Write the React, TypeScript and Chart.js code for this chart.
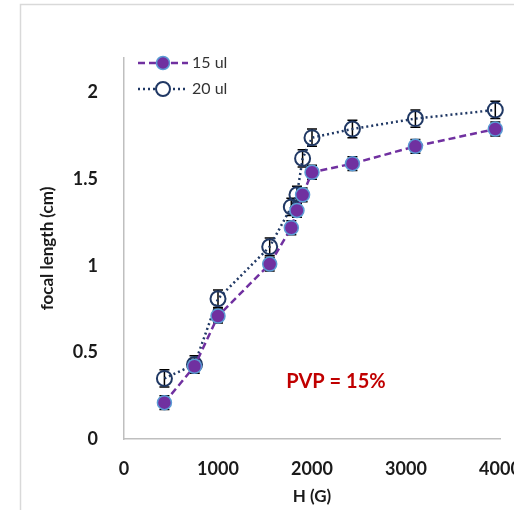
import React, { useEffect, useRef } from "react";
import { Chart, registerables } from "chart.js";

Chart.register(...registerables);

const H_VALUES = [430, 750, 1000, 1550, 1780, 1840, 1900, 2000, 2430, 3100, 3950];
const FOCAL_15 = [0.21, 0.42, 0.71, 1.01, 1.22, 1.32, 1.41, 1.54, 1.59, 1.69, 1.79];
const FOCAL_20 = [0.35, 0.43, 0.81, 1.11, 1.34, 1.41, 1.62, 1.74, 1.79, 1.85, 1.9];
const ERR_15 = [0.04, 0.04, 0.04, 0.04, 0.04, 0.04, 0.04, 0.04, 0.04, 0.04, 0.04];
const ERR_20 = [0.05, 0.05, 0.05, 0.05, 0.05, 0.05, 0.05, 0.05, 0.05, 0.05, 0.05];
const SERIES_LABELS = ["15 ul", "20 ul"];
const X_TICKS = [0, 1000, 2000, 3000, 4000];
const Y_TICKS = [0, 0.5, 1, 1.5, 2];
const ANNOTATION = "PVP = 15%";
const ANNOTATION_POS = { x: 2255, y: 0.33 };

const FONT = "Lato, 'Open Sans', sans-serif";
const PURPLE = "#7030A0";
const NAVY = "#203864";
const MARKER_EDGE = "#5B9BD5";

export default function App() {
  const ref = useRef<HTMLCanvasElement | null>(null);

  useEffect(() => {
    if (!ref.current) return;
    const errs = [ERR_15, ERR_20];
    const ys = [FOCAL_15, FOCAL_20];

    const framePlugin = {
      id: "frame",
      beforeDraw(chart: any) {
        const ctx = chart.ctx;
        ctx.save();
        ctx.strokeStyle = "#d9d9d9";
        ctx.lineWidth = 1.5;
        ctx.beginPath();
        ctx.moveTo(20.5, 520);
        ctx.lineTo(20.5, 4.5);
        ctx.lineTo(520, 4.5);
        ctx.stroke();
        ctx.restore();
      },
    };

    const errorPlugin = {
      id: "errorbars",
      beforeDatasetsDraw(chart: any) {
        const ctx = chart.ctx;
        const yScale = chart.scales.y;
        ctx.save();
        ctx.strokeStyle = "#000";
        ctx.lineWidth = 1.5;
        [0, 1].forEach((d) => {
          const meta = chart.getDatasetMeta(d);
          meta.data.forEach((pt: any, j: number) => {
            const top = yScale.getPixelForValue(ys[d][j] + errs[d][j]);
            const bot = yScale.getPixelForValue(ys[d][j] - errs[d][j]);
            ctx.beginPath();
            ctx.moveTo(pt.x, top);
            ctx.lineTo(pt.x, bot);
            ctx.moveTo(pt.x - 5, top);
            ctx.lineTo(pt.x + 5, top);
            ctx.moveTo(pt.x - 5, bot);
            ctx.lineTo(pt.x + 5, bot);
            ctx.stroke();
          });
        });
        ctx.restore();
      },
    };

    const overlayPlugin = {
      id: "overlay",
      afterDraw(chart: any) {
        const ctx = chart.ctx;
        const area = chart.chartArea;
        ctx.save();
        chart.data.datasets.forEach((ds: any, i: number) => {
          const y = area.top + 5 + i * 26;
          const x0 = area.left + 14;
          ctx.strokeStyle = ds.borderColor;
          ctx.lineWidth = ds.borderWidth;
          ctx.setLineDash(ds.borderDash || []);
          ctx.beginPath();
          ctx.moveTo(x0, y);
          ctx.lineTo(x0 + 50, y);
          ctx.stroke();
          ctx.setLineDash([]);
          ctx.beginPath();
          ctx.arc(x0 + 25, y, ds.pointRadius - 0.5, 0, Math.PI * 2);
          ctx.fillStyle = ds.pointBackgroundColor !== "transparent" ? ds.pointBackgroundColor : "#fff";
          ctx.fill();
          ctx.strokeStyle = ds.pointBorderColor;
          ctx.lineWidth = ds.pointBorderWidth;
          ctx.stroke();
          ctx.fillStyle = "#333";
          ctx.font = `16px ${FONT}`;
          ctx.textAlign = "left";
          ctx.textBaseline = "middle";
          ctx.fillText(ds.label, x0 + 54, y);
        });
        const ax = chart.scales.x.getPixelForValue(ANNOTATION_POS.x);
        const ay = chart.scales.y.getPixelForValue(ANNOTATION_POS.y);
        ctx.fillStyle = "#C00000";
        ctx.font = `bold 20px ${FONT}`;
        ctx.textAlign = "center";
        ctx.textBaseline = "middle";
        ctx.fillText(ANNOTATION, ax, ay);
        ctx.restore();
      },
    };

    const chart = new Chart(ref.current, {
      type: "scatter",
      data: {
        datasets: [
          {
            label: SERIES_LABELS[0],
            data: H_VALUES.map((x, i) => ({ x, y: FOCAL_15[i] })),
            showLine: true,
            borderColor: PURPLE,
            borderWidth: 2.5,
            borderDash: [7, 4],
            pointRadius: 7,
            pointBackgroundColor: PURPLE,
            pointBorderColor: MARKER_EDGE,
            pointBorderWidth: 1.5,
            clip: false,
            order: 1,
          } as any,
          {
            label: SERIES_LABELS[1],
            data: H_VALUES.map((x, i) => ({ x, y: FOCAL_20[i] })),
            showLine: true,
            borderColor: NAVY,
            borderWidth: 2.5,
            borderDash: [2, 3],
            pointRadius: 7.5,
            pointBackgroundColor: "transparent",
            pointBorderColor: NAVY,
            pointBorderWidth: 2,
            clip: false,
            order: 2,
          } as any,
        ],
      },
      options: {
        animation: false,
        responsive: false,
        events: [],
        layout: { padding: { left: 20, right: 14, top: 58, bottom: 0 } },
        plugins: {
          legend: { display: false },
          tooltip: { enabled: false },
        },
        scales: {
          x: {
            type: "linear",
            min: 0,
            max: 4000,
            grid: { display: false },
            border: { display: true, color: "#bfbfbf", width: 1.5 },
            afterBuildTicks: (s: any) => {
              s.ticks = X_TICKS.map((v) => ({ value: v }));
            },
            afterFit: (s: any) => {
              s.height = 71;
              s.paddingLeft = 0;
              s.paddingRight = 0;
            },
            ticks: {
              padding: 11,
              maxRotation: 0,
              autoSkip: false,
              color: "#1a1a1a",
              font: { family: FONT, size: 18, weight: "bold" },
              callback: (v: any) => String(v),
            },
            title: {
              display: true,
              text: "H (G)",
              color: "#1a1a1a",
              font: { family: FONT, size: 17, weight: "bold" },
              padding: { top: 0, bottom: 3 },
            },
          },
          y: {
            type: "linear",
            min: 0,
            max: 2.2,
            grid: { display: false },
            border: { display: true, color: "#bfbfbf", width: 1.5 },
            afterBuildTicks: (s: any) => {
              s.ticks = Y_TICKS.map((v) => ({ value: v }));
            },
            afterFit: (s: any) => {
              s.width = 104;
              s.paddingTop = 0;
              s.paddingBottom = 0;
            },
            ticks: {
              padding: 18,
              color: "#1a1a1a",
              font: { family: FONT, size: 18, weight: "bold" },
              callback: (v: any) => String(v),
            },
            title: {
              display: true,
              text: "focal length (cm)",
              color: "#1a1a1a",
              font: { family: FONT, size: 17, weight: "bold" },
              padding: { top: 17, bottom: 0 },
            },
          },
        },
      },
      plugins: [framePlugin, errorPlugin, overlayPlugin],
    });
    return () => chart.destroy();
  }, []);

  return (
    <div style={{ position: "absolute", left: 0, top: 0, width: 514, height: 510, background: "#fff" }}>
      <canvas ref={ref} width={514} height={510} style={{ display: "block" }} />
    </div>
  );
}
